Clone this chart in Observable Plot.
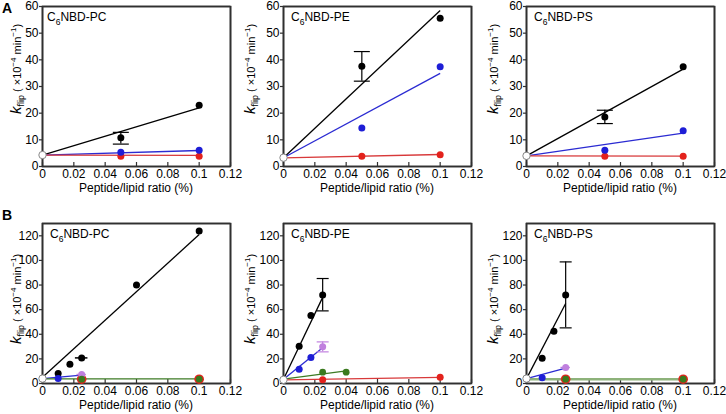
<!DOCTYPE html>
<html><head><meta charset="utf-8">
<script src="https://cdn.jsdelivr.net/npm/d3@7"></script>
<script src="https://cdn.jsdelivr.net/npm/@observablehq/plot@0.6"></script>
<style>
body{margin:0;background:#fff;}
#chart{position:relative;width:726px;height:414px;font-family:"Liberation Sans",Arial,sans-serif;overflow:hidden;}
.letter{position:absolute;font-weight:bold;font-size:14px;line-height:14px;color:#000;}
</style></head><body><div id="chart"></div>
<script>
// ---------- data ----------
const lipids = ["PC", "PE", "PS"];
const titleStems = ["NBD-PC", "NBD-PE", "NBD-PS"];   // shown as C6NBD-xx
const xTicks = [0, 0.02, 0.04, 0.06, 0.08, 0.1, 0.12];
const yTicksA = [0, 10, 20, 30, 40, 50, 60];
const yTicksB = [0, 20, 40, 60, 80, 100, 120];
const xDomain = [0, 0.12];
const yDomainA = [0, 60];
const yDomainB = [0, 130];
const xLabel = "Peptide/lipid ratio (%)";
const rowLetters = ["A", "B"];

// row A: [lipid, series, x, y]
const pointsA = [
  ["PC","black",0.05,10.8],["PC","black",0.1,23.0],
  ["PC","blue",0.05,5.3],["PC","blue",0.1,6.1],
  ["PC","red",0.05,3.8],["PC","red",0.1,3.8],
  ["PE","black",0.05,37.6],["PE","black",0.1,55.6],
  ["PE","blue",0.05,14.4],["PE","blue",0.1,37.4],
  ["PE","red",0.05,3.8],["PE","red",0.1,4.4],
  ["PS","black",0.05,18.6],["PS","black",0.1,37.4],
  ["PS","blue",0.05,6.1],["PS","blue",0.1,13.4],
  ["PS","red",0.05,3.8],["PS","red",0.1,3.8]
];
// control (no peptide): [lipid, x, y]
const controlA = [["PC",0,4.3],["PE",0,3.3],["PS",0,4.0]];
// vertical error bars: [lipid, series, x, low, high]
const errYA = [["PC","black",0.05,8.4,12.8],["PE","black",0.05,32.0,43.1],["PS","black",0.05,16.1,21.1]];
// linear fits: [lipid, series, x1, y1, x2, y2]
const fitsA = [
  ["PC","black",0,4.3,0.1,22.0],["PC","blue",0,4.3,0.1,6.0],["PC","red",0,4.3,0.1,4.2],
  ["PE","black",0,3.3,0.1,58.5],["PE","blue",0,3.3,0.1,34.9],["PE","red",0,3.2,0.1,4.5],
  ["PS","black",0,4.0,0.1,36.5],["PS","blue",0,4.0,0.1,12.5],["PS","red",0,4.0,0.1,3.9]
];

// row B
const pointsB = [
  ["PC","black",0.01,8.1],["PC","black",0.0175,15.7],["PC","black",0.025,20.8],["PC","black",0.06,80.0],["PC","black",0.1,124.0],
  ["PC","blue",0.01,4.0],
  ["PC","purple",0.025,7.3],
  ["PC","red",0.025,3.5],["PC","red",0.1,3.5],
  ["PC","green",0.025,3.5],["PC","green",0.1,3.5],
  ["PE","black",0.01,30.3],["PE","black",0.0175,55.2],["PE","black",0.025,72.0],
  ["PE","blue",0.01,11.5],["PE","blue",0.0175,21.2],
  ["PE","purple",0.025,29.8],
  ["PE","green",0.025,9.2],["PE","green",0.04,9.2],
  ["PE","red",0.025,3.0],["PE","red",0.1,5.1],
  ["PS","black",0.01,20.6],["PS","black",0.0175,42.5],["PS","black",0.025,72.0],
  ["PS","blue",0.01,4.6],
  ["PS","purple",0.025,13.0],
  ["PS","red",0.025,3.5],["PS","red",0.1,3.5],
  ["PS","green",0.025,3.5],["PS","green",0.1,3.5]
];
const controlB = [["PC",0,4.0],["PE",0,3.0],["PS",0,4.0]];
const errYB = [["PE","black",0.025,59.0,85.3],["PE","purple",0.025,25.7,33.8],["PS","black",0.025,45.2,98.8]];
// horizontal error bars: [lipid, series, y, xlow, xhigh]
const errXB = [["PC","black",20.8,0.021,0.029],["PC","purple",7.3,0.022,0.028],["PS","purple",13.0,0.022,0.028]];
const fitsB = [
  ["PC","black",0,5.0,0.1,121.0],["PC","blue",0,4.0,0.025,6.8],["PC","green",0,3.8,0.1,3.8],
  ["PE","black",0,3.5,0.025,70.0],["PE","blue",0,3.5,0.025,29.0],["PE","green",0,3.5,0.04,10.3],["PE","red",0,3.0,0.1,5.0],
  ["PS","black",0,4.0,0.025,65.0],["PS","blue",0,4.0,0.025,12.5],["PS","green",0,3.5,0.1,3.5]
];

// ---------- styles ----------
const dotColor = {black:"#000000", blue:"#1e1ed6", red:"#e3221c", green:"#3a7a1e", purple:"#c080de"};
const lineColor = {black:"#000000", blue:"#2b2bd2", red:"#d8393a", green:"#3d7b24", purple:"#c080de"};
const FONT = "Liberation Sans, Arial, sans-serif";
const AX = "#303030";
const lefts = [41.5, 283, 525.7];
const PW = 188, PH = 160, ML = 40, MR = 8, MT = 6, MB = 40;

const rows = [
  {top: 6, yDomain: yDomainA, yTicks: yTicksA, points: pointsA, control: controlA, errY: errYA, errX: [], fits: fitsA, cap: 8, labelShift: -17},
  {top: 223.3, yDomain: yDomainB, yTicks: yTicksB, points: pointsB, control: controlB, errY: errYB, errX: errXB, fits: fitsB, cap: 6, labelShift: -4}
];

function capSym(w) { return {draw(ctx) { ctx.moveTo(-w, 0); ctx.lineTo(w, 0); }}; }
const fmt = d3.format("~g");
const chart = document.getElementById("chart");

rows.forEach((row, ri) => {
  lipids.forEach((lip, pi) => {
    const by = (arr) => arr.filter(d => d[0] === lip);
    const pts = by(row.points);
    const bigRed = ri === 1 && lip !== "PE";
    const redPts = pts.filter(d => d[1] === "red");
    const greenPts = pts.filter(d => d[1] === "green");
    const otherPts = pts.filter(d => d[1] !== "red" && d[1] !== "green");
    const errY = by(row.errY), errX = by(row.errX);
    const fits = by(row.fits);
    const lightGreen = d => lip === "PS" && ri === 1 && d[1] === "green";

    const svg = Plot.plot({
      width: ML + PW + MR, height: MT + PH + MB,
      marginLeft: ML, marginRight: MR, marginTop: MT, marginBottom: MB,
      style: {fontFamily: FONT, fontSize: "12px"},
      x: {domain: xDomain},
      y: {domain: row.yDomain},
      marks: [
        Plot.frame({stroke: AX, strokeWidth: 1.6}),
        Plot.ruleX(xDomain, {stroke: AX, strokeWidth: 1.6}),
        Plot.ruleY(row.yDomain, {stroke: AX, strokeWidth: 1.6}),
        Plot.axisX(xTicks, {tickSize: 4, dy: -4, tickFormat: () => "", stroke: AX, strokeWidth: 1.2, label: null}),
        Plot.axisX(xTicks, {tickSize: 0, tickPadding: 3, tickFormat: fmt, label: null, fontSize: 12, fill: "#000"}),
        Plot.axisY(row.yTicks, {tickSize: 3, tickPadding: 1, label: null, fontSize: 12, stroke: AX, strokeWidth: 1.2, fill: "#000"}),
        Plot.link(fits.filter(d => !lightGreen(d)), {x1: d => d[2], y1: d => d[3], x2: d => d[4], y2: d => d[5], stroke: d => lineColor[d[1]], strokeWidth: 1.3}),
        Plot.link(fits.filter(lightGreen), {x1: d => d[2], y1: d => d[3], x2: d => d[4], y2: d => d[5], stroke: "#8db27a", strokeWidth: 2.4}),
        Plot.ruleX(errY, {x: d => d[2], y1: d => d[3], y2: d => d[4], stroke: d => dotColor[d[1]], strokeWidth: 1.2}),
        Plot.dot(errY, {x: d => d[2], y: d => d[3], symbol: capSym(row.cap), r: 3, fill: "none", stroke: d => dotColor[d[1]], strokeWidth: 1.2}),
        Plot.dot(errY, {x: d => d[2], y: d => d[4], symbol: capSym(row.cap), r: 3, fill: "none", stroke: d => dotColor[d[1]], strokeWidth: 1.2}),
        Plot.ruleY(errX, {y: d => d[2], x1: d => d[3], x2: d => d[4], stroke: d => dotColor[d[1]], strokeWidth: 1.5}),
        Plot.dot(redPts, {x: d => d[2], y: d => d[3], r: bigRed ? 4.8 : 3.5, fill: dotColor.red}),
        Plot.dot(otherPts, {x: d => d[2], y: d => d[3], r: 3.5, fill: d => dotColor[d[1]]}),
        Plot.dot(greenPts, {x: d => d[2], y: d => d[3], r: 3.4, fill: dotColor.green}),
        Plot.dot(by(row.control), {x: d => d[1], y: d => d[2], r: 3.7, fill: "white", stroke: "#888", strokeWidth: 1})
      ]
    });

    const s = d3.select(svg);
    // y-axis label: k_flip ( ×10^-4 min^-1)
    const off = pi === 0 ? 21 : 28;
    const yl = s.append("text")
      .attr("transform", `translate(${ML - off},${MT + PH / 2 + row.labelShift}) rotate(-90)`)
      .attr("text-anchor", "middle").attr("font-family", FONT).attr("fill", "#000");
    yl.append("tspan").attr("font-size", 15).attr("font-style", "italic").text("k");
    yl.append("tspan").attr("font-size", 9).attr("dy", 3).text("flip");
    yl.append("tspan").attr("font-size", 11).attr("dy", -3).text(" ( ×10");
    yl.append("tspan").attr("font-size", 8).attr("dy", -5).text("−4");
    yl.append("tspan").attr("font-size", 11).attr("dy", 5).text(" min");
    yl.append("tspan").attr("font-size", 8).attr("dy", -5).text("−1");
    yl.append("tspan").attr("font-size", 11).attr("dy", 5).text(")");

    // panel title C6NBD-xx
    const tt = s.append("text").attr("x", ML + (pi === 0 && ri === 0 ? 5 : 8)).attr("y", MT + 15)
      .attr("text-anchor", "start")
      .attr("font-family", FONT).attr("font-size", 12).attr("fill", "#000");
    tt.append("tspan").text("C");
    tt.append("tspan").attr("font-size", 8.5).attr("dy", 3.5).text("6");
    tt.append("tspan").attr("dy", -3.5).text(titleStems[pi]);

    // x-axis label
    s.append("text").attr("x", ML + PW / 2).attr("y", MT + PH + 26)
      .attr("text-anchor", "middle").attr("font-family", FONT).attr("font-size", 12).attr("fill", "#000")
      .text(xLabel);

    svg.style.position = "absolute";
    svg.style.left = Math.round(lefts[pi] - ML) + "px";
    svg.style.top = Math.round(row.top - MT) + "px";
    svg.style.overflow = "visible";
    chart.appendChild(svg);
  });
  const L = document.createElement("div");
  L.className = "letter";
  L.textContent = rowLetters[ri];
  L.style.left = "2px";
  L.style.top = (ri === 0 ? 1 : 208) + "px";
  chart.appendChild(L);
});
</script></body></html>
